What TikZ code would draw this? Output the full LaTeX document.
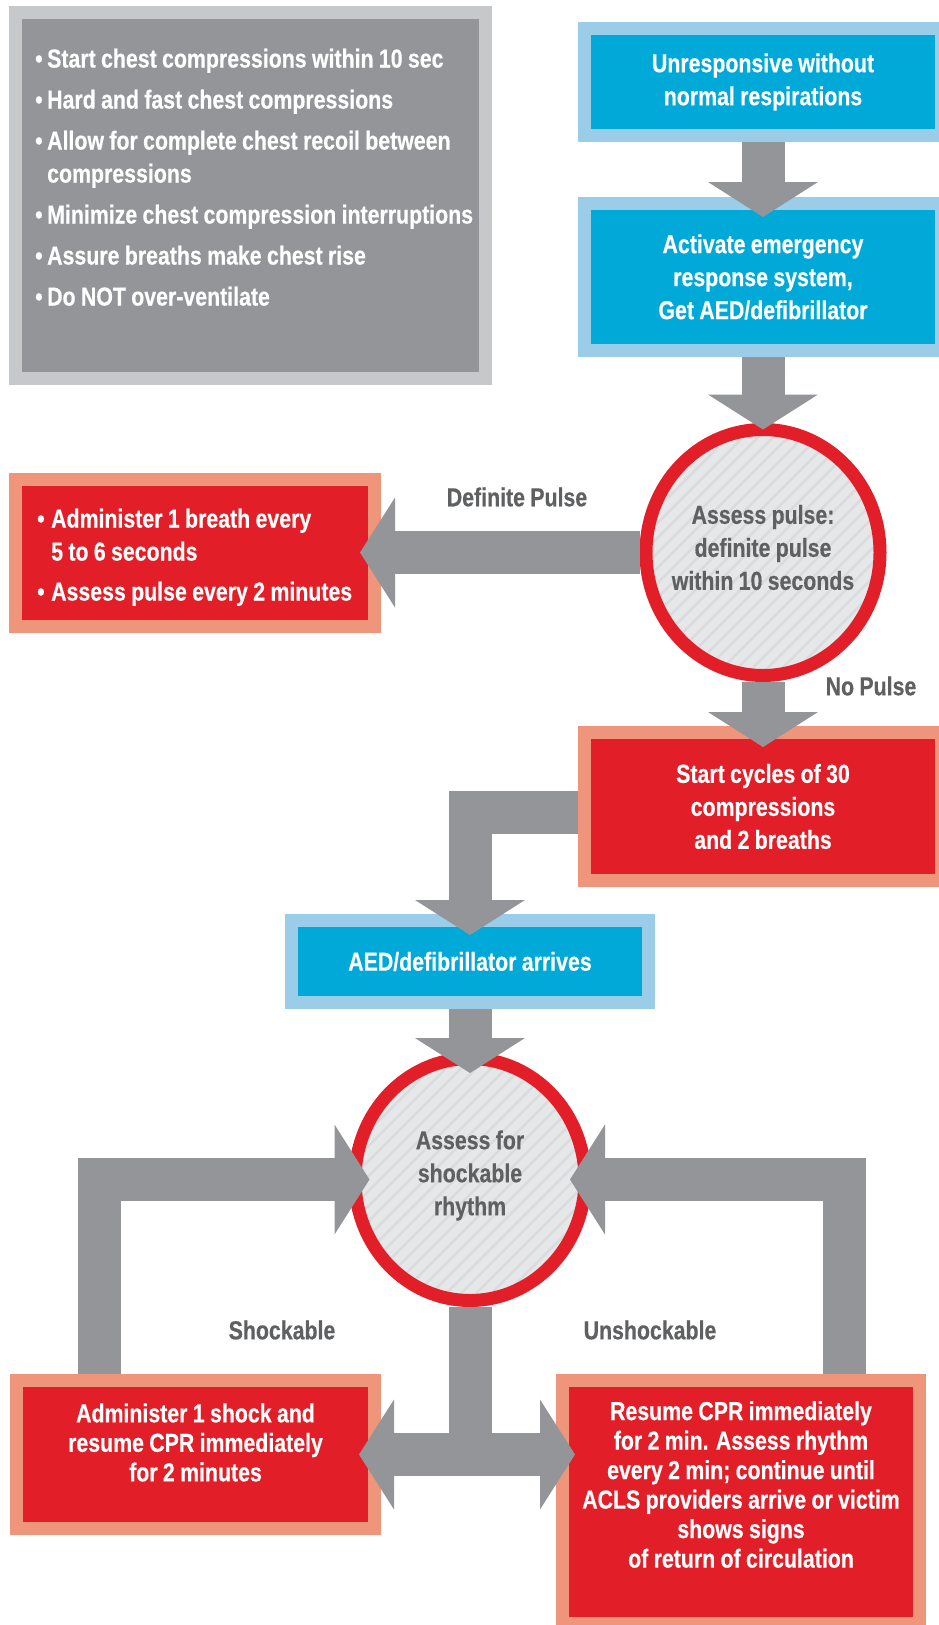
\documentclass[tikz,border=0pt]{standalone}
\usepackage{fontspec}
\newfontfamily\chartfont{Liberation Sans}[FakeStretch=0.82, WordSpace=0.9, FakeBold=0.4]
\usepackage{tikz}
\usetikzlibrary{positioning, arrows.meta, shapes.geometric, calc}

\definecolor{flowgray}{HTML}{939598}
\definecolor{tipsedge}{HTML}{C7C8CA}
\definecolor{aedblue}{HTML}{00A9D7}
\definecolor{aededge}{HTML}{9CCDE8}
\definecolor{cprred}{HTML}{E21F28}
\definecolor{cpredge}{HTML}{EF957B}
\definecolor{discfill}{HTML}{E6E7E8}
\definecolor{hatchgray}{HTML}{DADBDD}
\definecolor{labelgray}{HTML}{5F6062}

\newcommand{\tipitem}[2][12pt]{\makebox[#1][l]{\textbullet}#2}

\tikzset{
  boxfont/.style={font=\chartfont\bfseries\fontsize{26}{33}\selectfont},
  tightfont/.style={font=\chartfont\bfseries\fontsize{26}{29.5}\selectfont},
  panel/.style={rectangle, line width=13pt, inner sep=0pt, outer sep=0pt,
    boxfont, text=white, align=center},
  bluebox/.style={panel, fill=aedblue, draw=aededge},
  redbox/.style={panel, fill=cprred, draw=cpredge},
  tipbox/.style={panel, fill=flowgray, draw=tipsedge},
  tipstext/.style={boxfont, text=white, align=left, inner sep=0pt},
  redtext/.style={tightfont, text=white, align=center, inner sep=0pt},
  assess/.style={ellipse, fill=discfill, draw=cprred, line width=13pt,
    inner sep=0pt, outer sep=0pt,
    path picture={
      \foreach \k in {-14,...,14}
        \draw[hatchgray, line width=2.5pt]
          ([xshift=\k*15pt-150pt, yshift=-150pt]path picture bounding box.center)
          -- ++(300pt,300pt);
    }},
  assesstext/.style={boxfont, text=labelgray, align=center, inner sep=0pt},
  branch/.style={boxfont, text=labelgray, inner sep=0pt},
  flow/.style={draw=flowgray, line width=43pt, shorten <=6.5pt,
    -{Triangle[width=110pt 0 0, length=35pt 0 0, line width=0pt 0 0]}},
}

\begin{document}
\begin{tikzpicture}[x=1pt, y=-1pt]
  \fill[white] (0,0) rectangle (939,1625);
  \useasboundingbox (0,0) rectangle (939,1625);

  % ── CPR quality panel (top left) ──
  \node[tipbox, minimum width=470pt, minimum height=366pt] (tips) at (250.5,195.5) {};
  \node[tipstext, anchor=north west] (tipslist) at (35,48.5)
    {\tipitem{Start chest compressions within 10 sec}\\[8pt]
     \tipitem{Hard and fast chest compressions}\\[8pt]
     \tipitem{Allow for complete chest recoil between}\\
     \hspace*{12pt}compressions\\[8pt]
     \tipitem{Minimize chest compression interruptions}\\[8pt]
     \tipitem{Assure breaths make chest rise}\\[8pt]
     \tipitem{Do NOT over-ventilate}};

  % ── Main column ──
  \node[bluebox, minimum width=357pt, minimum height=107pt] (unresp) at (763,82)
    {Unresponsive without\\normal respirations};
  \node[bluebox, minimum width=357pt, minimum height=147pt] (activate) at (763,277)
    {Activate emergency\\response system,\\Get AED/defibrillator};
  \node[assess, minimum width=234pt, minimum height=246pt] (pulse) at (763,552.5) {};
  \node[assesstext] (pulsetext) at ([yshift=5pt]pulse.center)
    {Assess pulse:\\definite pulse\\within 10 seconds};
  \node[redbox, minimum width=359pt, minimum height=147pt] (breaths) at (195,552.5) {};
  \node[tipstext, anchor=north west] (breathlist) at (37,508.5)
    {\tipitem[14pt]{Administer 1 breath every}\\
     \hspace*{14pt}5 to 6 seconds\\[7pt]
     \tipitem[14pt]{Assess pulse every 2 minutes}};
  \node[redbox, minimum width=357pt, minimum height=148pt] (cycles) at (763,806.5)
    {Start cycles of 30\\compressions\\and 2 breaths};
  \node[bluebox, minimum width=357pt, minimum height=82pt] (aed) at (470,961.5)
    {AED/defibrillator arrives};
  \node[assess, minimum width=230pt, minimum height=242pt] (rhythm) at (470,1179.5) {};
  \node[assesstext] (rhythmtext) at ([yshift=4pt]rhythm.center)
    {Assess for\\shockable\\rhythm};

  % ── Outcome boxes ──
  \node[redbox, minimum width=358pt, minimum height=148pt] (shock) at (195.5,1454.5) {};
  \node[redtext] (shocktext) at ([yshift=12pt]shock.center)
    {Administer 1 shock and\\resume CPR immediately\\for 2 minutes};
  \node[redbox, minimum width=357pt, minimum height=243pt] (resume) at (741,1502) {};
  \node[redtext] (resumetext) at ([yshift=17.5pt]resume.center)
    {Resume CPR immediately\\for 2 min. Assess rhythm\\every 2 min; continue until\\
     ACLS providers arrive or victim\\shows signs\\of return of circulation};

  % ── Branch labels ──
  \node[branch] (yespulse) at (517,497) {Definite Pulse};
  \node[branch] (nopulse) at (871,686) {No Pulse};
  \node[branch] (shockable) at (282,1330) {Shockable};
  \node[branch] (unshockable) at (650,1330) {Unshockable};

  % ── Block arrows ──
  \draw[flow, shorten >=-13.5pt] (unresp.south) -- (activate.north);
  \draw[flow] (activate.south) -- (pulse.north);
  \draw[flow, shorten >=-14.5pt] (pulse.south) -- (cycles.north);
  \draw[flow, shorten >=-14.5pt] (pulse.west) -- (breaths.east);
  \draw[flow, shorten >=-14.5pt] ([yshift=-6pt]cycles.west) -| (aed.north);
  \draw[flow, shorten >=-14.5pt] (aed.south) -- (rhythm.north);
  \coordinate (split) at (rhythm.south |- shock.east);
  \draw[flow, -] (rhythm.south) -- (split);
  \draw[flow, shorten <=0pt, shorten >=-15.5pt] (split) -- (split -| shock.east);
  \draw[flow, shorten <=0pt, shorten >=-12.5pt] (split) -- (split -| resume.west);
  \draw[flow, shorten >=-14.5pt] ([xshift=-96.5pt]shock.north) |- (rhythm.west);
  \draw[flow, shorten >=-15pt] ([xshift=103pt]resume.north) |- (rhythm.east);
\end{tikzpicture}
\end{document}
